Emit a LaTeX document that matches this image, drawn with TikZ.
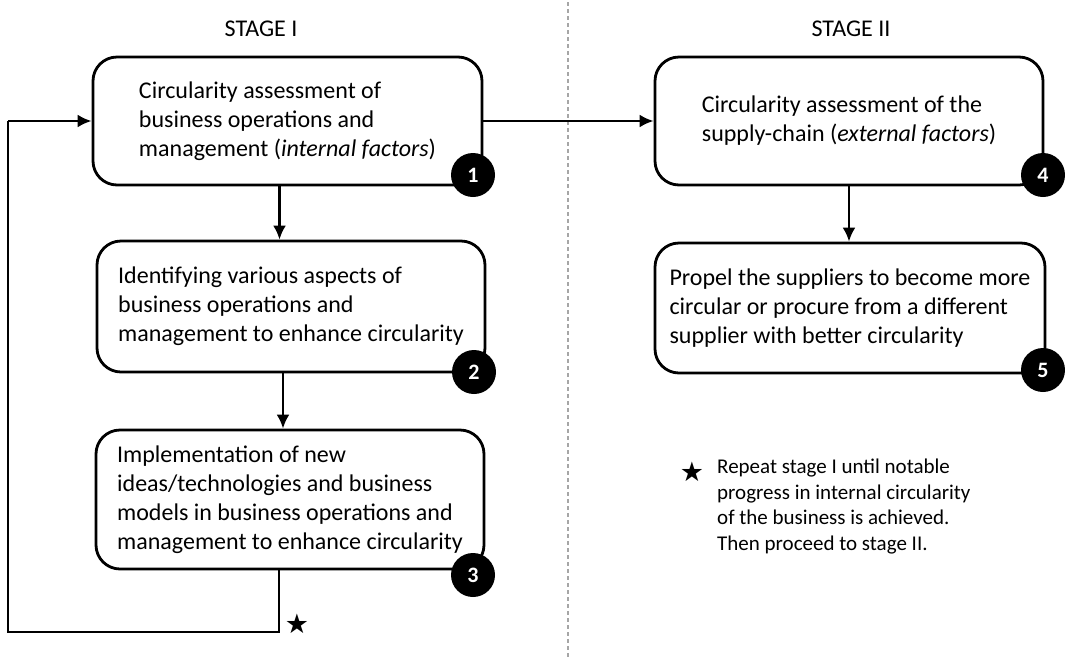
\documentclass[tikz,border=0pt]{standalone}
\usepackage{fontspec}
\setmainfont{Carlito}
\newfontfamily\starfont{DejaVu Sans}
\usetikzlibrary{arrows.meta,calc,positioning}
\tikzset{
    block/.style = {draw, rounded corners=24pt, line width=2.8pt,
        align=left, inner sep=0pt,
        font=\fontsize{24}{29}\selectfont},
    badge/.style = {circle, fill=black, text=white, inner sep=0pt,
        minimum size=44pt, font=\fontsize{22}{22}\selectfont\bfseries},
    title/.style = {font=\fontsize{24}{28}\selectfont},
    arrow/.style = {draw, line width=2.6pt, -{Latex[length=14pt,width=13pt]}},
    line/.style = {draw, line width=2.6pt},
    divider/.style = {draw, gray!70, line width=1.3pt, dash pattern=on 4pt off 3pt}
}

\begin{document}
\begin{tikzpicture}[x=1pt,y=-1pt]
    \useasboundingbox (0,0) rectangle (1065,657);
    % stage titles and divider
    \node [title] (s1) at (261,29) {STAGE I};
    \node [title] (s2) at (851,29) {STAGE II};
    \coordinate (dtop) at (568,2);
    \coordinate (dbot) at (568,657);
    \draw [divider] (dtop) -- (dbot);
    % stage I
    \node [block, minimum width=389pt, minimum height=128pt] (b1) at (287.5,121)
        {Circularity assessment of\\business operations and\\management (\textit{internal factors})};
    \node [block, minimum width=388pt, minimum height=131pt] (b2) at (291,306.5)
        {Identifying various aspects of\\business operations and\\management to enhance circularity};
    \node [block, minimum width=388pt, minimum height=139pt] (b3) at (290,499.5)
        {Implementation of new\\ideas/technologies and business\\models in business operations and\\management to enhance circularity};
    % stage II
    \node [block, minimum width=388pt, minimum height=128pt] (b4) at (849,121)
        {Circularity assessment of the\\supply-chain (\textit{external factors})};
    \node [block, minimum width=390pt, minimum height=130pt] (b5) at (850,308)
        {Propel the suppliers to become more\\circular or procure from a different\\supplier with better circularity};
    % numbers
    \node [badge] (n1) at (473,175) {1};
    \node [badge] (n2) at (474,372) {2};
    \node [badge] (n3) at (473,575) {3};
    \node [badge] (n4) at (1043,175) {4};
    \node [badge] (n5) at (1043,370) {5};
    % connectors
    \draw [arrow] ([xshift=-8pt]b1.south) -- ([xshift=-8pt]b1.south |- b2.north);
    \draw [arrow] ([xshift=-8pt]b2.south) -- ([xshift=-8pt]b2.south |- b3.north);
    \draw [arrow] (b4.south) -- (b4.south |- b5.north);
    \draw [arrow] (b1.east) -- (b4.west);
    % repeat loop
    \coordinate (fb1) at (279,632);
    \coordinate (fb2) at (8,632);
    \draw [line] (b3.south -| fb1) -- (fb1) -- (fb2) -- (fb2 |- b1.west);
    \draw [arrow] (fb2 |- b1.west) -- (b1.west);
    \node [font=\starfont\fontsize{27}{27}\selectfont] (st1) at (297,624) {★};
    % note
    \node [font=\starfont\fontsize{27}{27}\selectfont] (st2) at (692,472) {★};
    \node [anchor=north west, align=left, inner sep=0pt,
        font=\fontsize{21}{25.5}\selectfont] (note) at (717,459)
        {Repeat stage I until notable\\progress in internal circularity\\of the business is achieved.\\Then proceed to stage II.};
\end{tikzpicture}
\end{document}
